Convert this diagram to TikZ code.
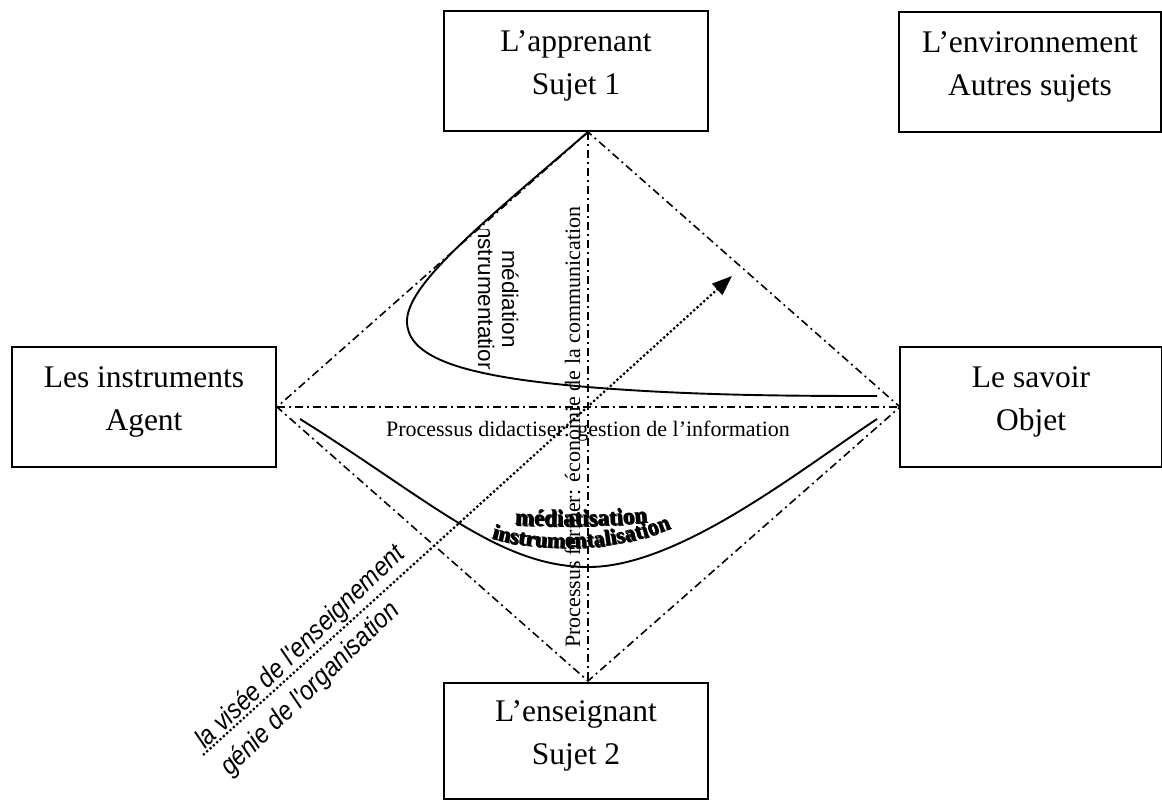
\documentclass[tikz,border=0pt]{standalone}
\usepackage{fontspec}
\setmainfont{Liberation Serif}
\newfontfamily\labelsans[Ligatures=TeXOff]{Liberation Sans}
\usetikzlibrary{arrows.meta,decorations.text}

\tikzset{
  pole/.style={draw, line width=1.6pt, minimum width=264pt, minimum height=120pt,
    inner sep=0pt, align=center, font=\fontsize{31.5}{43}\selectfont, text depth=16pt},
  axis/.style={line width=1.6pt, dash pattern=on 8pt off 4pt on 2pt off 4pt},
  flow/.style={line width=1.9pt},
  aim/.style={line width=2.2pt, dash pattern=on 2.2pt off 2.3pt, -{Triangle[length=20pt,width=15pt]}},
  caption/.style={font=\fontsize{22}{24}\selectfont, inner sep=0pt},
  sanslabel/.style={font=\labelsans\fontsize{22.5}{24}\selectfont, inner sep=0pt},
  sansit/.style={font=\labelsans\itshape\fontsize{27}{29}\selectfont, inner sep=0pt},
}

\begin{document}
\begin{tikzpicture}[x=1pt,y=-1pt]
\useasboundingbox (0,0) rectangle (1162,800);

% the five poles
\node[pole] (app) at (576,71) {L’apprenant\\Sujet 1};
\node[pole, minimum width=262pt] (env) at (1030,72) {L’environnement\\Autres sujets};
\node[pole] (ins) at (144,407) {Les instruments\\Agent};
\node[pole, minimum width=262pt] (sav) at (1031,407) {Le savoir\\Objet};
\node[pole, minimum height=116pt] (ens) at (576,741) {L’enseignant\\Sujet 2};

% corners of the diamond
\coordinate (N) at (588,132);
\coordinate (W) at (277,407);
\coordinate (E) at (900,407);
\coordinate (S) at (588,681);

\draw[axis] (N) -- (W) -- (S) -- (E) -- cycle;
\draw[axis] (W) -- (E);
\draw[axis] (N) -- (S);

% mediation curves
\coordinate (upEnd) at (877,396);
\coordinate (lowStart) at (300,419);
\coordinate (lowEnd) at (877,419);
\draw[flow] (N) .. controls (480,225) and (406,285) .. (407,322)
  .. controls (408,360) and (470,378) .. (600,388)
  .. controls (700,395.7) and (800,396) .. (upEnd);
\draw[flow] (lowStart) .. controls (430,500) and (500,568) .. (590,567)
  .. controls (680,566) and (800,470) .. (lowEnd);

% aim of the teaching
\coordinate (aimS) at (203,755);
\coordinate (aimE) at (732,276);
\draw[aim] (aimS) -- (aimE);

% process labels
\node[caption, anchor=base] (didact) at (588,436) {Processus didactiser: gestion de l’information};
\node[caption, rotate=90, anchor=base west] (former) at (580,648) {Processus former: économie de la communication};

\node[sanslabel, rotate=-90, anchor=base] (med) at (502,299) {médiation};
\begin{scope}
  \clip (460,229) rectangle (500,368);
  \node[sanslabel, rotate=-90, anchor=base] (instr) at (478,298) {instrumentation};
\end{scope}

\node[sansit, rotate=44, xscale=0.88, anchor=base west] (visee) at (205,750) {la visée de l'enseignement};
\node[sansit, rotate=44, xscale=0.88, anchor=base west] (genie) at (230,777) {génie de l'organisation};

% embossed labels on the lower curve
\foreach \dx/\dy in {1.4/1.4, 0.7/0.7, 0/0} {
  \path[xshift=\dx pt, yshift=-\dy pt, decorate, decoration={text along path, text align=center,
    text={|\fontsize{23}{23}\selectfont\bfseries|médiatisation}}]
    (505,524) .. controls (550,527) and (610,527) .. (657,521);
  \path[xshift=\dx pt, yshift=-\dy pt, decorate, decoration={text along path, text align=center,
    text={|\fontsize{22}{22}\selectfont\bfseries|instrumentalisation}}]
    (486,537) .. controls (540,553) and (615,553) .. (676,526);
}
\end{tikzpicture}
\end{document}
